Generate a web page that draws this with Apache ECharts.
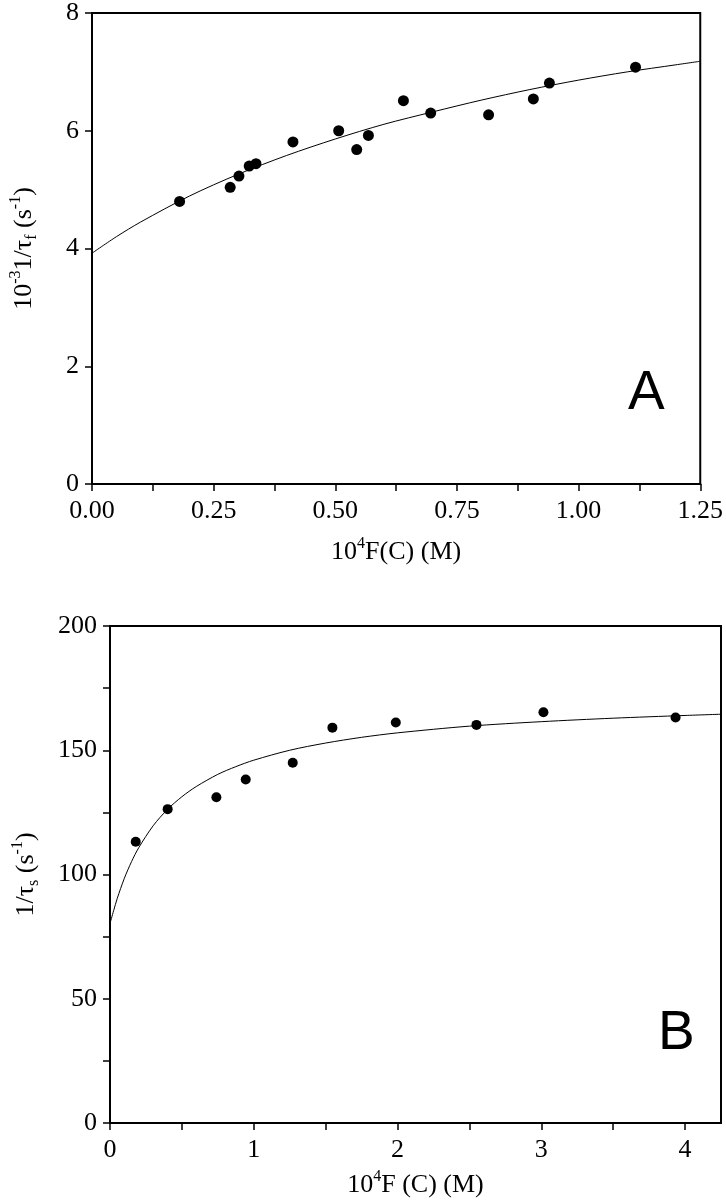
<!DOCTYPE html>
<html>
<head>
<meta charset="utf-8">
<script src="https://cdn.jsdelivr.net/npm/echarts@6/dist/echarts.min.js"></script>
<style>
html,body{margin:0;padding:0;background:#fff;}
#chart{width:726px;height:1200px;}
</style>
</head>
<body>
<div id="chart"></div>
<script>
// ---- Panel A data ----
const pointsAX = [0.180, 0.284, 0.302, 0.323, 0.337, 0.413, 0.507, 0.544, 0.568, 0.640, 0.696, 0.815, 0.907, 0.940, 1.117];
const pointsAY = [4.80, 5.04, 5.23, 5.40, 5.44, 5.81, 6.00, 5.68, 5.92, 6.51, 6.30, 6.27, 6.54, 6.81, 7.08];
const curveAX = [0, 0.05, 0.1, 0.2, 0.3, 0.4, 0.5, 0.6, 0.7, 0.8, 0.9, 1.0, 1.1, 1.2, 1.25];
const curveAY = [3.92, 4.20, 4.45, 4.89, 5.26, 5.58, 5.86, 6.11, 6.32, 6.52, 6.70, 6.86, 7.00, 7.12, 7.18];
const xTickLabelsA = ['0.00', '0.25', '0.50', '0.75', '1.00', '1.25'];
const yTickLabelsA = ['0', '2', '4', '6', '8'];

// ---- Panel B data ----
const pointsBX = [0.179, 0.401, 0.740, 0.944, 1.271, 1.547, 1.988, 2.549, 3.015, 3.934];
const pointsBY = [113.2, 126.3, 131.1, 138.2, 145.0, 159.1, 161.2, 160.2, 165.3, 163.2];
const curveBX = [0, 0.025, 0.05, 0.1, 0.15, 0.2, 0.3, 0.4, 0.5, 0.6, 0.75, 0.875, 1.0, 1.25, 1.5, 1.75, 2.0, 2.5, 3.0, 3.5, 4.0, 4.25];
const curveBY = [80.3, 85.4, 90.3, 98.5, 105.2, 110.8, 119.6, 126.2, 131.3, 135.4, 140.3, 143.4, 146.0, 150.0, 152.9, 155.2, 157.0, 159.7, 161.5, 162.9, 164.0, 164.5];
const xTickLabelsB = ['0', '1', '2', '3', '4'];
const yTickLabelsB = ['0', '50', '100', '150', '200'];

const pairs = (xs, ys) => xs.map((x, i) => [x, ys[i]]);
const SERIF = 'Liberation Serif';
const rich = {
  n: {fontSize: 26, fontFamily: SERIF, color: '#000', lineHeight: 32},
  sup: {fontSize: 16, fontFamily: SERIF, color: '#000', lineHeight: 17, verticalAlign: 'top'},
  sub: {fontSize: 16, fontFamily: SERIF, color: '#000', lineHeight: 17, verticalAlign: 'bottom'}
};
const axisCommon = {
  axisLine: {show: true, onZero: false, lineStyle: {color: '#000', width: 2}},
  axisTick: {show: true, inside: false, length: 7, lineStyle: {color: '#000', width: 1.5}},
  splitLine: {show: false},
  nameLocation: 'middle',
  nameTextStyle: {rich: rich}
};
const pick = labels => v => {
  const hit = labels.find(l => Math.abs(parseFloat(l) - v) < 1e-6);
  return hit === undefined ? '' : hit;
};
const labelStyle = {color: '#000', fontFamily: SERIF, fontSize: 26};

const chart = echarts.init(document.getElementById('chart'), null, {renderer: 'canvas'});
chart.setOption({
  animation: false,
  backgroundColor: '#fff',
  grid: [
    {left: 91, top: 12, width: 612, height: 472, show: true, borderColor: '#000', borderWidth: 2, containLabel: false},
    {left: 110, top: 626, width: 611, height: 497, show: true, borderColor: '#000', borderWidth: 2, containLabel: false}
  ],
  xAxis: [
    Object.assign({}, axisCommon, {
      type: 'value', gridIndex: 0, min: 0, max: 1.25, interval: 0.125,
      axisLabel: Object.assign({}, labelStyle, {margin: 14, formatter: pick(xTickLabelsA)}),
      name: '{n|10}{sup|4}{n|F(C) (M)}', nameGap: 52
    }),
    Object.assign({}, axisCommon, {
      type: 'value', gridIndex: 1, min: 0, max: 4.25, interval: 0.5,
      axisLabel: Object.assign({}, labelStyle, {margin: 14, formatter: pick(xTickLabelsB), showMaxLabel: false}),
      name: '{n|10}{sup|4}{n|F (C) (M)}', nameGap: 46
    })
  ],
  yAxis: [
    Object.assign({}, axisCommon, {
      type: 'value', gridIndex: 0, min: 0, max: 8, interval: 2,
      axisLabel: Object.assign({}, labelStyle, {margin: 13, formatter: pick(yTickLabelsA)}),
      name: '{n|10}{sup|-3}{n|1/τ}{sub|f}{n| (s}{sup|-1}{n|)}', nameGap: 52
    }),
    Object.assign({}, axisCommon, {
      type: 'value', gridIndex: 1, min: 0, max: 200, interval: 25,
      axisLabel: Object.assign({}, labelStyle, {margin: 13, formatter: pick(yTickLabelsB)}),
      name: '{n|1/τ}{sub|s}{n| (s}{sup|-1}{n|)}', nameGap: 68
    })
  ],
  series: [
    {type: 'line', xAxisIndex: 0, yAxisIndex: 0, data: pairs(curveAX, curveAY), smooth: 0.3,
     showSymbol: false, symbol: 'none', lineStyle: {color: '#000', width: 1}, z: 2},
    {type: 'scatter', xAxisIndex: 0, yAxisIndex: 0, data: pairs(pointsAX, pointsAY), symbol: 'circle', symbolSize: 11,
     itemStyle: {color: '#000', opacity: 1}, z: 3},
    {type: 'line', xAxisIndex: 1, yAxisIndex: 1, data: pairs(curveBX, curveBY), smooth: 0.3,
     showSymbol: false, symbol: 'none', lineStyle: {color: '#000', width: 1}, z: 2},
    {type: 'scatter', xAxisIndex: 1, yAxisIndex: 1, data: pairs(pointsBX, pointsBY), symbol: 'circle', symbolSize: 10,
     itemStyle: {color: '#000', opacity: 1}, z: 3}
  ],
  graphic: [
    {type: 'text', left: 628, top: 366, style: {text: 'A', fontSize: 55, fontFamily: 'Liberation Sans', fill: '#000'}},
    {type: 'text', left: 658, top: 1006, style: {text: 'B', fontSize: 55, fontFamily: 'Liberation Sans', fill: '#000'}}
  ]
});
</script>
</body>
</html>
